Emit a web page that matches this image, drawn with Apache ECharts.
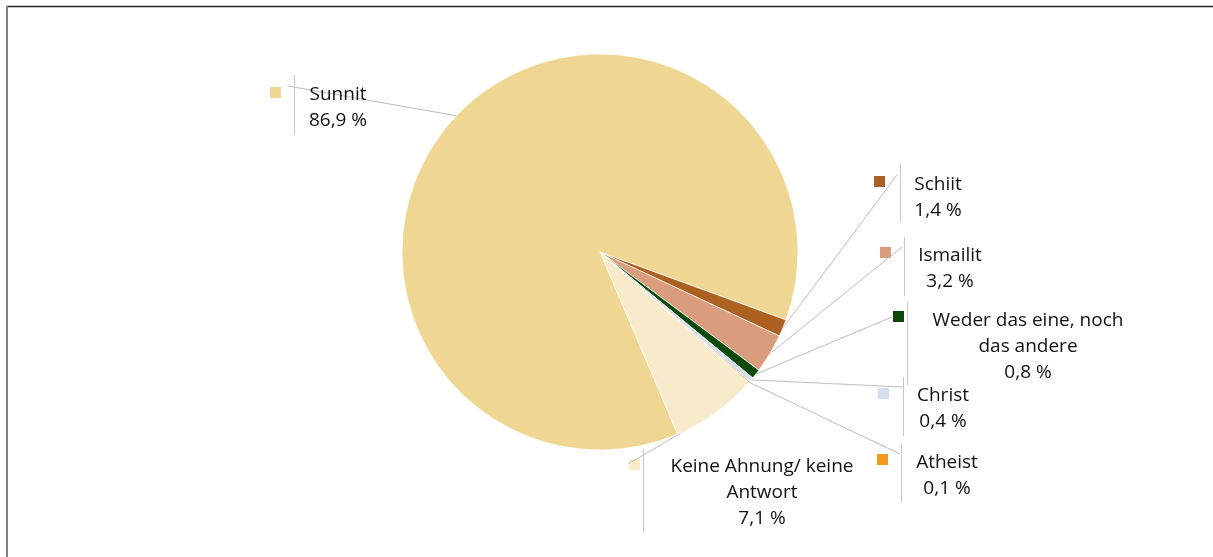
<!DOCTYPE html>
<html>
<head>
<meta charset="utf-8">
<script src="https://cdn.jsdelivr.net/npm/echarts@6/dist/echarts.min.js"></script>
<style>
html,body{margin:0;padding:0;background:#fff;}
#chart{width:1213px;height:557px;}
</style>
</head>
<body>
<div id="chart"></div>
<script>
// ---- data ----
const categories = ['Sunnit', 'Schiit', 'Ismailit', 'Weder das eine, noch\ndas andere', 'Christ', 'Atheist', 'Keine Ahnung/ keine\nAntwort'];
const values = [86.9, 1.4, 3.2, 0.8, 0.4, 0.1, 7.1];

// ---- styles ----
const colors = ['#EFD793', '#AD6120', '#D99D7E', '#0B4A0B', '#D3DEEE', '#F39A1E', '#F8EBCB'];

// ---- label layout (text centre x, text top y) ----
const textPos = [[338, 82], [938, 172], [950, 243], [1028, 308], [943, 383], [947, 450], [762, 454]];
// leader line end points
const lineEnds = [[288, 86], [897, 175], [902, 247], [892, 317], [903, 387], [900, 454], [628, 464]];
// marker squares (left, top)
const markers = [[270, 87], [874, 176], [880, 247], [893, 311], [878, 388], [877, 454], [629, 459]];
// vertical divider lines (x, top, bottom)
const dividers = [[294, 75, 135], [900, 163, 222], [904, 237, 296], [907, 302, 385], [903, 377, 436], [901, 443, 502], [643, 449, 533]];

const chart = echarts.init(document.getElementById('chart'), null, {renderer: 'canvas'});

const graphics = [];
graphics.push({type: 'line', shape: {x1: 6, y1: 6.5, x2: 1213, y2: 6.5}, style: {stroke: '#222', lineWidth: 1.5}, silent: true});
graphics.push({type: 'line', shape: {x1: 7, y1: 6, x2: 7, y2: 557}, style: {stroke: '#808080', lineWidth: 2}, silent: true});
dividers.forEach(d => {
  graphics.push({type: 'line', shape: {x1: d[0] + 0.5, y1: d[1], x2: d[0] + 0.5, y2: d[2]}, style: {stroke: '#c8c8c8', lineWidth: 1}, silent: true});
});
markers.forEach((m, i) => {
  graphics.push({type: 'rect', shape: {x: m[0], y: m[1], width: 11, height: 11}, style: {fill: colors[i]}, silent: true});
});

chart.setOption({
  animation: false,
  backgroundColor: '#fff',
  color: colors,
  graphic: graphics,
  series: [{
    type: 'pie',
    center: [600, 252],
    radius: 198,
    startAngle: 293.1,
    clockwise: true,
    avoidLabelOverlap: false,
    itemStyle: {borderColor: '#fff', borderWidth: 0.7},
    label: {
      show: true,
      position: 'outside',
      color: '#111',
      fontFamily: 'Open Sans',
      fontSize: 19,
      lineHeight: 26,
      align: 'center',
      formatter: p => p.name + '\n' + p.value.toFixed(1).replace('.', ',') + ' %'
    },
    labelLine: {show: true, lineStyle: {color: '#bdbdbd', width: 1}},
    labelLayout: function (params) {
      const i = params.dataIndex;
      const start = params.labelLinePoints ? params.labelLinePoints[0] : null;
      const res = {x: textPos[i][0], y: textPos[i][1], align: 'center', verticalAlign: 'top'};
      if (start) res.labelLinePoints = [start, lineEnds[i]];
      return res;
    },
    emphasis: {disabled: true},
    data: categories.map((c, i) => ({name: c, value: values[i]}))
  }]
});
</script>
</body>
</html>
